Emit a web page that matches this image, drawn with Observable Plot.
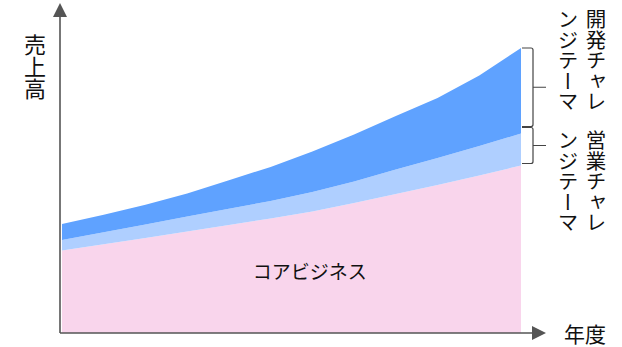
<!DOCTYPE html>
<html>
<head>
<meta charset="utf-8">
<script src="https://cdn.jsdelivr.net/npm/d3@7"></script>
<script src="https://cdn.jsdelivr.net/npm/@observablehq/plot@0.6"></script>
<style>
  body { margin: 0; background: #fff; }
  #chart { width: 622px; height: 347px; }
</style>
</head>
<body>
<div id="chart"></div>
<script>
// Fiscal year index along the horizontal axis
const years = [0, 1, 2, 3, 4, 5, 6, 7, 8, 9, 10, 11];

// Stacked revenue layers (bottom to top)
const layers = ["コアビジネス", "営業チャレンジテーマ", "開発チャレンジテーマ"];
const core  = [82.5, 88.7, 95, 101.5, 108, 114.5, 121.5, 130, 139, 148, 157.5, 167.5];
const sales = [10.5, 12, 13.5, 15, 16.3, 17.6, 19.5, 21.5, 24.5, 27, 29.5, 32];
const dev   = [16, 17.5, 19.8, 23, 28.5, 34, 40.5, 47, 53.5, 60, 70.5, 85.5];
const colors = ["#f9d5ec", "#afcfff", "#5fa2ff"];

// Axis titles and side labels
const yTitle = "売上高";
const xTitle = "年度";
const devLabel = ["開発チャレ", "ンジテーマ"];
const salesLabel = ["営業チャレ", "ンジテーマ"];

const series = [core, sales, dev];
const rows = years.flatMap((t, i) =>
  layers.map((layer, k) => ({ year: t, layer, value: series[k][i] }))
);

const font = "'Noto Sans CJK JP', 'Noto Sans', sans-serif";
const axisColor = "#555";

const plot = Plot.plot({
  width: 622,
  height: 347,
  marginTop: 3,
  marginBottom: 14,
  marginLeft: 62,
  marginRight: 101,
  x: { domain: [years[0], years[years.length - 1]], axis: null },
  y: { domain: [0, 330], axis: null },
  color: { domain: layers, range: colors },
  style: { fontFamily: font, background: "#fff" },
  marks: [
    Plot.areaY(rows, { x: "year", y: "value", fill: "layer", order: layers }),
    Plot.text([{ x: years[6], y: core[6] / 2 }], {
      x: "x", y: "y", text: () => layers[0], dx: -3,
      fontSize: 19, fill: "#111", fontFamily: font
    })
  ]
});

document.getElementById("chart").appendChild(plot);

// Axes with arrowheads, brackets and vertical labels
const sx = plot.scale("x"), sy = plot.scale("y");
const ys = d => sy.apply(d);
const [x0, x1] = sx.range;
const [yb, yt] = sy.range;
const svg = d3.select(plot);
const g = svg.append("g");

const ax = x0 - 2;
g.append("path")
  .attr("d", `M${ax},${yb} V${yt + 13} M${ax},${yb} H${x1 + 13}`)
  .attr("stroke", axisColor).attr("stroke-width", 1.6).attr("fill", "none");
g.append("path")
  .attr("d", `M${ax},${yt} L${ax - 7},${yt + 14} L${ax + 7},${yt + 14} Z`)
  .attr("fill", axisColor);
g.append("path")
  .attr("d", `M${x1 + 25},${yb} L${x1 + 11},${yb - 7} L${x1 + 11},${yb + 7} Z`)
  .attr("fill", axisColor);

const lastIdx = years.length - 1;
const totalEnd = core[lastIdx] + sales[lastIdx] + dev[lastIdx];
const midEnd = core[lastIdx] + sales[lastIdx];
const coreEnd = core[lastIdx];

function bracket(y1, y2) {
  const xa = x1 + 1, xb = x1 + 12, xt = x1 + 25, r = 2;
  const ym = (y1 + y2) / 2;
  g.append("path")
    .attr("d", `M${xa},${y1} H${xb - r} Q${xb},${y1} ${xb},${y1 + r} V${y2 - r} Q${xb},${y2} ${xb - r},${y2} H${xa} M${xb},${ym} H${xt}`)
    .attr("stroke", "#444").attr("stroke-width", 1.2).attr("fill", "none");
}
bracket(ys(totalEnd), ys(midEnd) - 7);
bracket(ys(midEnd) - 6, ys(coreEnd) - 2);

function vtext(str, x, y, size) {
  g.append("text")
    .attr("x", x).attr("y", y)
    .attr("text-anchor", "start")
    .style("writing-mode", "vertical-rl")
    .attr("font-family", font)
    .attr("font-size", size)
    .attr("fill", "#111")
    .text(str);
}
vtext(yTitle, 35, 34, 22);
vtext(devLabel[0], 596, 9, 20.5);
vtext(devLabel[1], 568, 9, 20.5);
vtext(salesLabel[0], 596, 130, 20.5);
vtext(salesLabel[1], 568, 130, 20.5);

g.append("text")
  .attr("x", 585).attr("y", yb + 3)
  .attr("text-anchor", "middle").attr("dominant-baseline", "middle")
  .attr("font-family", font).attr("font-size", 21).attr("fill", "#111")
  .text(xTitle);
</script>
</body>
</html>
